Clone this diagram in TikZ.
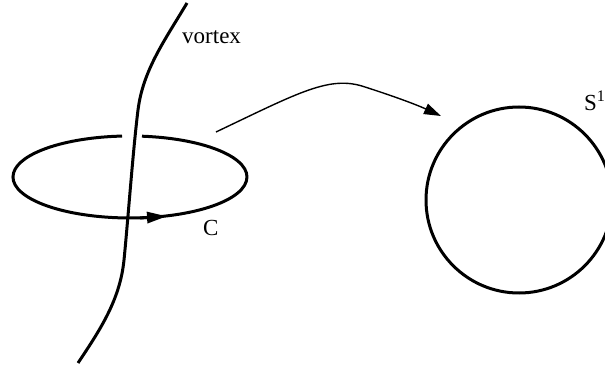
\documentclass[tikz,border=0pt]{standalone}
\usepackage{fontspec}
\setmainfont{Liberation Serif}
\usetikzlibrary{arrows.meta}
\begin{document}
\begin{tikzpicture}[x=1pt,y=-1pt,
  thick line/.style={line width=3pt},
  thin line/.style={line width=1.4pt},
  lbl/.style={font=\fontsize{23}{27}\selectfont, inner sep=0pt}]
\useasboundingbox (0,0) rectangle (605,371);
% loop C (centre 130,177) with a gap at the top where the vortex passes in front
\coordinate (cs) at (142.0,136.2);
\draw[thick line] (cs) arc[start angle=-84.1, end angle=266.1, x radius=117, y radius=41];
% vortex line
\coordinate (vt) at (187,3);
\coordinate (vb) at (78,363);
\draw[thick line] (vt) .. controls (165,40) and (143,70) .. (138,110)
  .. controls (133,150) and (128,220) .. (124,260)
  .. controls (120,300) and (100,330) .. (vb);
% arrow on C
\coordinate (ca) at (140,218);
\coordinate (cb) at (167,216.3);
\draw[thick line, -{Triangle[length=20pt,width=11pt]}] (ca) -- (cb);
% circle S1
\node[draw, circle, thick line, minimum size=186pt, inner sep=0pt] (s1) at (519,200) {};
% map arrow
\coordinate (ms) at (216,132);
\coordinate (me) at (441,116);
\draw[thin line, -{Triangle[length=17pt,width=11pt]}] (ms) .. controls (300,92) and (330,75) .. (365,87) .. controls (390,95) and (415,104) .. (me);
% labels
\node[lbl, anchor=west] (vl) at (182,37) {vortex};
\node[lbl, anchor=west] (cl) at (203,228) {C};
\node[lbl, anchor=west] (sl) at (584,101) {S\textsuperscript{1}};
\end{tikzpicture}
\end{document}
